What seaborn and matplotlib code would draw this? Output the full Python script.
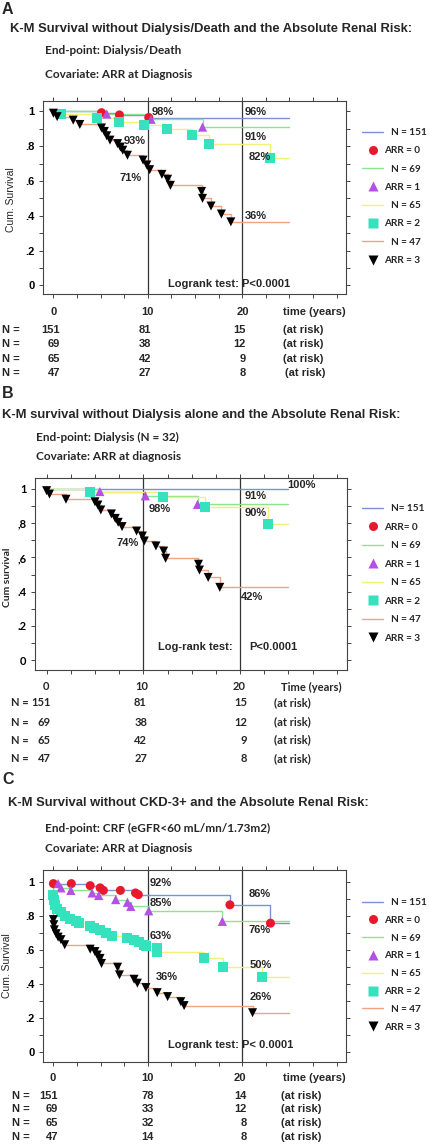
import numpy as np
import matplotlib
matplotlib.use('Agg')
import matplotlib.pyplot as plt
import seaborn as sns
from matplotlib.lines import Line2D

### data
END = 25  # end of follow-up, years

# A: end-point dialysis/death
a_t0 = [5.1, 7.0, 10.1]
a_s0 = [0.993, 0.98, 0.965]
a_t1 = [5.65, 10.35, 15.8]
a_s1 = [0.985, 0.955, 0.91]
a_t2 = [0.8, 4.6, 7.0, 9.6, 12.0, 14.7, 16.5, 22.9]
a_s2 = [0.988, 0.962, 0.942, 0.921, 0.898, 0.865, 0.81, 0.73]
a_t3 = [0.0, 0.4, 2.1, 2.8, 5.1, 5.4, 5.65, 6.0, 6.8, 7.1, 7.35, 7.85, 9.5, 9.9,
        10.2, 11.5, 12.1, 12.4, 15.7, 15.8, 16.7, 17.8, 18.8]
a_s3 = [0.99, 0.97, 0.95, 0.925, 0.905, 0.885, 0.86, 0.835, 0.815, 0.795, 0.777, 0.748, 0.72, 0.692,
        0.665, 0.638, 0.61, 0.575, 0.54, 0.50, 0.456, 0.41, 0.365]

# B: end-point dialysis
b_t0 = []
b_s0 = []
b_t1 = [5.5, 10.2, 15.6]
b_s1 = [0.985, 0.96, 0.91]
b_t2 = [4.5, 12.0, 16.4, 22.9]
b_s2 = [0.98, 0.955, 0.893, 0.795]
b_t3 = [0.0, 0.3, 2.0, 5.0, 5.3, 5.6, 6.7, 7.1, 7.4, 7.8, 9.3, 9.9, 10.1, 11.3,
        12.1, 12.3, 15.7, 15.8, 16.7, 17.9]
b_s3 = [0.99, 0.97, 0.94, 0.925, 0.906, 0.877, 0.854, 0.828, 0.805, 0.78, 0.754, 0.725, 0.696, 0.667,
        0.637, 0.595, 0.56, 0.526, 0.483, 0.425]

# C: end-point CRF
c_t0 = [0.0, 1.9, 3.9, 4.95, 5.3, 7.1, 8.7, 9.0, 18.7, 23.0]
c_s0 = [0.99, 0.99, 0.978, 0.965, 0.95, 0.95, 0.935, 0.925, 0.865, 0.757]
c_t1 = [0.5, 0.8, 1.85, 4.1, 4.8, 6.6, 7.85, 8.2, 10.1, 17.9]
c_s1 = [0.99, 0.965, 0.95, 0.935, 0.92, 0.896, 0.88, 0.856, 0.83, 0.768]
c_t2 = [0.0, 0.07, 0.2, 0.4, 0.8, 1.2, 1.8, 2.4, 2.75, 3.9, 4.3, 4.95, 5.6, 6.2,
        7.85, 8.5, 9.1, 9.55, 9.8, 10.95, 11.0, 16.0, 18.0, 22.1]
c_s2 = [0.92, 0.896, 0.866, 0.84, 0.82, 0.80, 0.78, 0.768, 0.758, 0.742, 0.728, 0.715, 0.70, 0.683,
        0.67, 0.66, 0.644, 0.63, 0.62, 0.61, 0.585, 0.551, 0.502, 0.439]
c_t3 = [0.0, 0.05, 0.1, 0.3, 0.5, 0.8, 1.2, 3.9, 4.4, 4.65, 4.95, 5.1, 6.8, 7.0,
        8.55, 8.9, 9.8, 11.0, 12.1, 13.5, 13.85, 21.1]
c_s3 = [0.778, 0.748, 0.718, 0.695, 0.675, 0.66, 0.63, 0.604, 0.59, 0.57, 0.55, 0.52, 0.498, 0.453,
        0.427, 0.404, 0.378, 0.348, 0.325, 0.295, 0.272, 0.23]

# at risk numbers (rows = ARR 0..3, columns = 0, 10, 20 years)
a_risk = [[151, 81, 15], [69, 38, 12], [65, 42, 9], [47, 27, 8]]
b_risk = [[151, 81, 15], [69, 38, 12], [65, 42, 9], [47, 27, 8]]
c_risk = [[151, 78, 14], [69, 33, 12], [65, 32, 8], [47, 14, 8]]

a_legend = ['N = 151', 'ARR = 0', 'N = 69', 'ARR = 1', 'N = 65', 'ARR = 2', 'N = 47', 'ARR = 3']
b_legend = ['N= 151', 'ARR= 0', 'N = 69', 'ARR = 1', 'N = 65', 'ARR = 2', 'N = 47', 'ARR = 3']
c_legend = a_legend

yt_dot = ['0', '.2', '.4', '.6', '.8', '1']
yt_comma = ['0', '.2', '.4', ',6', ',8', '1']

### style
ARIAL = 'Liberation Sans'
CAL = 'Lato'
LINES = ['#7a90d8', '#8ee48e', '#f0f07a', '#eea383']
MCOL = ['#e8192c', '#b64fe6', '#36e2bd', 'black']
MARK = ['o', '^', 's', 'v']
MSIZE = [42, 44, 52, 42]
AXC = '#444444'

sns.set_theme(style='ticks')
plt.rcParams['font.family'] = [ARIAL, 'DejaVu Sans']

W, H = 430, 1144
fig = plt.figure(figsize=(W / 100, H / 100), dpi=100)


def ftext(x, y, s, **kw):
    kw.setdefault('va', 'center')
    fig.text(x / W, 1 - y / H, s, **kw)


def panel(box, curves, xlim, ylim, ylabels, yfont, leg, leg_top, leg_gap):
    l, t, r, b = box
    ax = fig.add_axes([l / W, 1 - b / H, (r - l) / W, (b - t) / H])
    for i, (tt, ss) in enumerate(curves):
        xs = [0] + tt + [END]
        ys = [1] + ss + [ss[-1] if ss else 1]
        sns.lineplot(x=xs, y=ys, drawstyle='steps-post', color=LINES[i], lw=1,
                     estimator=None, sort=False, ax=ax, legend=False, zorder=2)
        if tt:
            sns.scatterplot(x=tt, y=ss, marker=MARK[i], color=MCOL[i], s=MSIZE[i],
                            edgecolor='none', ax=ax, legend=False, zorder=3)
    ax.axvline(10, color='#333333', lw=0.9, zorder=1)
    ax.axvline(20, color='#333333', lw=0.9, zorder=1)
    ax.set_xlim(xlim)
    ax.set_ylim(ylim)
    ax.set_xticks([0, 10, 20])
    ax.set_xticks(np.arange(0, 30.1, 2.5), minor=True)
    ax.set_xticklabels([])
    ax.set_yticks([0, 0.2, 0.4, 0.6, 0.8, 1.0])
    ax.set_yticks(np.arange(0, 1.01, 0.1), minor=True)
    ax.set_yticklabels(ylabels, fontsize=8, fontweight='bold', family=yfont)
    ax.tick_params(which='both', direction='out', length=3, width=0.7, top=True, right=True,
                   color=AXC, labelcolor='black', pad=3)
    for sp in ax.spines.values():
        sp.set_color(AXC)
        sp.set_linewidth(0.8)
    ax.set_xlabel('')
    ax.set_ylabel('')

    handles = []
    for i in range(4):
        handles.append(Line2D([], [], color=LINES[i], lw=1))
        handles.append(Line2D([], [], ls='none', marker=MARK[i], color=MCOL[i], ms=6.5, mec='none'))
    labels = [('   ' + s) if k % 2 == 0 else s for k, s in enumerate(leg)]
    ax.legend(handles, labels, loc='upper left', bbox_to_anchor=(362 / W, 1 - leg_top / H),
              bbox_transform=fig.transFigure, frameon=False, borderpad=0, borderaxespad=0,
              handlelength=2.1, handletextpad=0.15, labelspacing=leg_gap,
              prop=dict(family=CAL, weight='bold', size=7.2))
    return ax


def risk_table(rows_y, xs, risk, nx, atx, font, xlab_y, xlab_x, xlab, tick_x):
    bold = dict(fontsize=8, fontweight='bold', family=font)
    for x, s in zip(tick_x, ['0', '10', '20']):
        ftext(x, xlab_y, s, ha='center', **bold)
    ftext(xlab_x, xlab_y, xlab, ha='left', **bold)
    for k, (y, row) in enumerate(zip(rows_y, risk)):
        ftext(nx, y, 'N =', ha='left', **bold)
        for x, v in zip(xs, row):
            ftext(x, y, str(v), ha='right', **bold)
        ftext(atx[k], y, '(at risk)', ha='left', **bold)


TSIZE = 9.35
ESIZE = 8.5

# ---------- panel A
ftext(2, 10, 'A', fontsize=11.5, fontweight='bold', family=ARIAL)
ftext(10, 29, 'K-M Survival without Dialysis/Death and the Absolute Renal Risk:',
      fontsize=TSIZE, fontweight='bold', family=ARIAL)
ftext(45, 50, 'End-point: Dialysis/Death', fontsize=ESIZE, fontweight='bold', family=CAL)
ftext(45, 74, 'Covariate: ARR at Diagnosis', fontsize=ESIZE, fontweight='bold', family=CAL)
axA = panel((43, 101, 346, 294), [(a_t0, a_s0), (a_t1, a_s1), (a_t2, a_s2), (a_t3, a_s3)],
            (-1.1, 31.0), (-0.05, 1.06), yt_dot, ARIAL, a_legend, 128, 0.93)
pct = dict(fontsize=8, fontweight='bold', family=ARIAL, va='center', ha='left')
for x, y, s in [(10.4, 0.995, '98%'), (20.3, 0.995, '96%'), (7.4, 0.828, '93%'), (20.3, 0.851, '91%'),
                (20.7, 0.736, '82%'), (7.05, 0.62, '71%'), (20.3, 0.401, '36%')]:
    axA.text(x, y, s, **pct)
axA.text(12.1, 0.009, 'Logrank test: P<0.0001', **pct)
ftext(11, 200, 'Cum. Survival', rotation=90, ha='center', fontsize=7.5, family=ARIAL)
risk_table([330, 344, 359, 373], [60, 151, 246], a_risk, 2, [283, 283, 283, 285], ARIAL,
           312, 283, 'time (years)', [54, 147, 243])

# ---------- panel B
ftext(2, 394, 'B', fontsize=11.5, fontweight='bold', family=ARIAL)
ftext(2, 415, 'K-M survival without Dialysis alone and the Absolute Renal Risk:',
      fontsize=TSIZE, fontweight='bold', family=ARIAL)
ftext(36, 437, 'End-point: Dialysis (N = 32)', fontsize=ESIZE, fontweight='bold', family=CAL)
ftext(36, 457, 'Covariate: ARR at diagnosis', fontsize=ESIZE, fontweight='bold', family=CAL)
axB = panel((35, 478, 347, 670), [(b_t0, b_s0), (b_t1, b_s1), (b_t2, b_s2), (b_t3, b_s3)],
            (-1.2, 31.05), (-0.058, 1.064), yt_comma, CAL, b_legend, 504, 0.95)
for x, y, s in [(24.85, 1.023, '100%'), (20.5, 0.959, '91%'), (20.5, 0.86, '90%'), (10.5, 0.883, '98%'),
                (7.2, 0.684, '74%'), (20.1, 0.368, '42%')]:
    axB.text(x, y, s, **pct)
axB.text(11.5, 0.076, 'Log-rank test:', **pct)
axB.text(20.9, 0.076, 'P<0.0001', **pct)
ftext(8, 577, 'Cum survival', rotation=90, ha='center', fontsize=7.5, fontweight='bold', family=CAL)
risk_table([703, 722, 740, 759], [51, 147, 247], b_risk, 11, [274] * 4, CAL,
           687, 281, 'Time (years)', [46, 142, 239])

# ---------- panel C
ftext(2, 780, 'C', fontsize=11.5, fontweight='bold', family=ARIAL)
ftext(8, 803, 'K-M Survival without CKD-3+ and the Absolute Renal Risk:',
      fontsize=TSIZE, fontweight='bold', family=ARIAL)
ftext(45, 828, 'End-point: CRF (eGFR<60 mL/mn/1.73m2)', fontsize=ESIZE, fontweight='bold', family=CAL)
ftext(45, 848, 'Covariate: ARR at Diagnosis', fontsize=ESIZE, fontweight='bold', family=CAL)
axC = panel((43, 870, 346, 1062), [(c_t0, c_s0), (c_t1, c_s1), (c_t2, c_s2), (c_t3, c_s3)],
            (-1.1, 31.0), (-0.06, 1.07), yt_dot, ARIAL, c_legend, 898, 0.88)
for x, y, s in [(10.2, 0.996, '92%'), (10.2, 0.878, '85%'), (10.2, 0.683, '63%'), (10.8, 0.441, '36%'),
                (20.7, 0.931, '86%'), (20.7, 0.718, '76%'), (20.8, 0.512, '50%'), (20.8, 0.323, '26%')]:
    axC.text(x, y, s, **pct)
axC.text(12.1, 0.04, 'Logrank test: P< 0.0001', **pct)
ftext(7, 966, 'Cum. Survival', rotation=90, ha='center', fontsize=7.5, family=ARIAL)
risk_table([1096, 1109, 1123, 1137], [58, 154, 247], c_risk, 12, [281] * 4, ARIAL,
           1078, 283, 'time (years)', [53, 147, 240])

fig.savefig('out.png', dpi=100, facecolor='white')
